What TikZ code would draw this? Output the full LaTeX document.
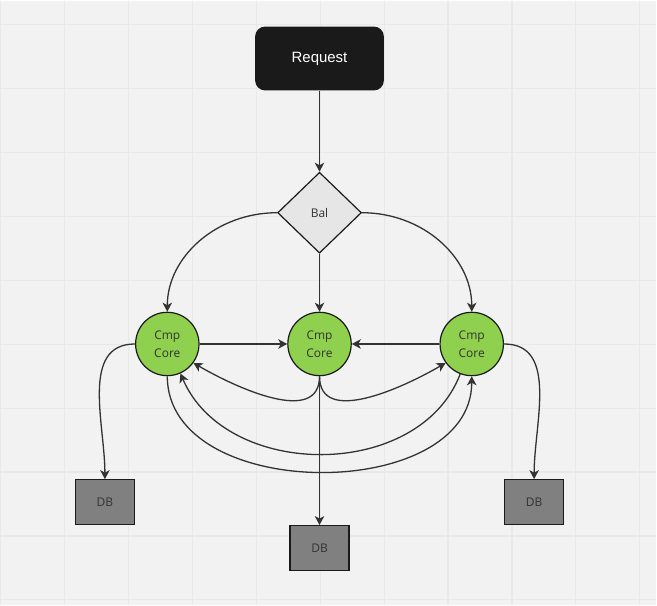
\documentclass[tikz,border=0pt]{standalone}
\usepackage{fontspec}
\setmainfont{Open Sans}
\newfontfamily\reqfont{Liberation Sans}
\usetikzlibrary{shapes.geometric,arrows.meta}
\definecolor{paper}{HTML}{F2F2F2}
\definecolor{gridline}{HTML}{E8E8E8}
\definecolor{ink}{HTML}{333333}
\definecolor{coregreen}{HTML}{8FD14F}
\definecolor{balgray}{HTML}{E6E6E6}
\definecolor{dbgray}{HTML}{808080}
\definecolor{reqblack}{HTML}{1A1A1A}
\begin{document}
\begin{tikzpicture}[x=1pt,y=-1pt]
		% Define the styles for the nodes and links
		\tikzstyle{req}=[rectangle, rounded corners=10pt, fill=reqblack, text=white,
		minimum width=129pt, minimum height=64pt, font=\reqfont\fontsize{15}{18}\selectfont]
		\tikzstyle{bal}=[diamond, draw=reqblack, fill=balgray, line width=1.2pt, inner sep=0pt,
		minimum width=84pt, minimum height=81pt, text=ink, font=\fontsize{12}{18}\selectfont]
		\tikzstyle{core}=[circle, draw=reqblack, fill=coregreen, line width=1.2pt, inner sep=0pt,
		minimum size=63.5pt, align=center, text=ink, font=\fontsize{12}{18}\selectfont]
		\tikzstyle{db}=[rectangle, draw=reqblack, fill=dbgray, line width=1.2pt, inner sep=0pt,
		minimum width=59pt, minimum height=45pt, text=ink, font=\fontsize{12}{18}\selectfont]
		\tikzstyle{link}=[draw=ink, line width=1.3pt, -{Stealth[length=9pt, width=9.5pt, inset=2.5pt]}]
		
		% Paper with grid
		\fill[paper] (0,0) rectangle (657,605);
		\foreach \gx in {0.3,64.3,...,640.3} \draw[gridline, line width=1.2pt] (\gx,0) -- (\gx,605);
		\foreach \gy in {24.3,88.3,...,600.3} \draw[gridline, line width=1.2pt] (0,\gy) -- (657,\gy);
		\useasboundingbox (0,0) rectangle (657,605);
		
		% Nodes definition
		\node[req] (request) at (319.5,58) {Request};
		\node[bal] (bal) at (319.5,212.5) {Bal};
		\node[core] (coreL) at (167,344) {Cmp\\Core}; \node[core] (coreM) at (319.5,344) {Cmp\\Core};
		\node[core] (coreR) at (472,344) {Cmp\\Core};
		\node[db] (dbL) at (104.5,502.5) {DB}; \node[db] (dbM) at (319.5,548.5) {DB};
		\node[db] (dbR) at (534.5,502.5) {DB};
		
		% Request to balancer to cores
		\draw[link] (request) -- (bal); \draw[link] (bal) -- (coreM);
		\draw[link] (bal.west) .. controls +(-60.5,0) and +(0,-55) .. (coreL.north);
		\draw[link] (bal.east) .. controls +(60.5,0) and +(0,-55) .. (coreR.north);
		
		% Links between the cores
		\draw[link] (coreL) -- (coreM); \draw[link] (coreR) -- (coreM);
		\draw[link] (coreM.south) .. controls +(0,50) and +(43,25) .. (coreL.-36);
		\draw[link] (coreM.south) .. controls +(0,50) and +(-43,25) .. (coreR.-144);
		\draw[link] (coreL.south) .. controls +(0,127.6) and +(0,127.6) .. (coreR.south);
		\draw[link] (coreR.-111) .. controls +(-41,107) and +(46,107) .. (coreL.-66);
		
		% Cores to the databases
		\draw[link] (coreL.west) .. controls +(-55,0) and +(0,-55) .. (dbL.north);
		\draw[link] (coreR.east) .. controls +(55,0) and +(0,-55) .. (dbR.north);
		\draw[link] (coreM) -- (dbM);
	\end{tikzpicture}
\end{document}
